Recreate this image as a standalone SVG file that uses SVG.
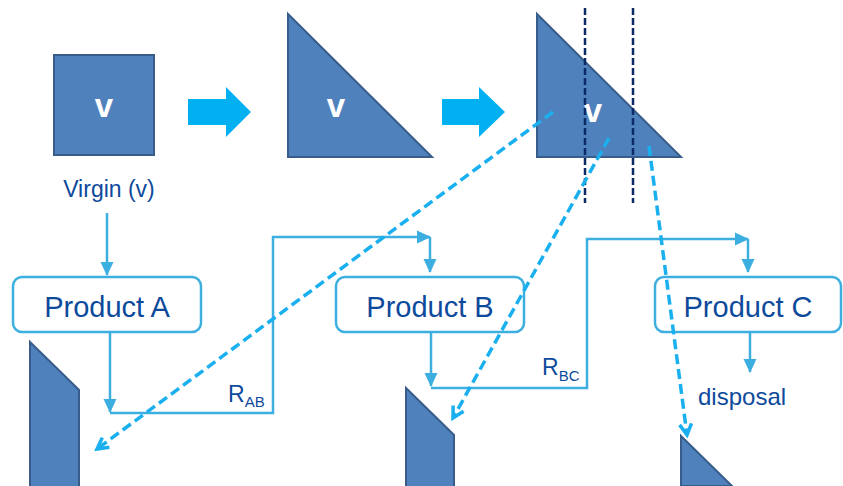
<svg xmlns="http://www.w3.org/2000/svg" width="843" height="486" viewBox="0 0 843 486">
<defs>
<style>
.shape{fill:#4f81bd;stroke:#385d8a;stroke-width:2;stroke-linejoin:miter}
.bigarrow{fill:#00b0f0}
.v{font-family:"Liberation Sans",Arial,sans-serif;font-weight:bold;font-size:33px;fill:#ffffff;text-anchor:middle}
.lbl{font-family:"Liberation Sans",Arial,sans-serif;fill:#0e4a9c}
.box{fill:#ffffff;stroke:#3daee0;stroke-width:2.5}
.conn{fill:none;stroke:#3daee0;stroke-width:2.5}
.cut{fill:none;stroke:#0b2a66;stroke-width:2.5;stroke-dasharray:7 3}
.dash{fill:none;stroke:#1ab0ef;stroke-width:3.5;stroke-dasharray:10 5}
</style>
<marker id="ah" markerWidth="14" markerHeight="14" refX="13" refY="7" orient="auto" markerUnits="userSpaceOnUse">
<path d="M0,0.5 L14,7 L0,13.5 Z" fill="#3daee0"/>
</marker>
<marker id="oh" markerWidth="16" markerHeight="16" refX="13" refY="8" orient="auto" markerUnits="userSpaceOnUse">
<path d="M2,2 L13,8 L2,14" fill="none" stroke="#1ab0ef" stroke-width="3.5"/>
</marker>
</defs>

<g id="virgin">
<rect class="shape" x="54" y="55" width="100" height="100"/>
<text class="v" x="104" y="117">v</text>
</g>
<g id="arrow1"><path class="bigarrow" d="M188,99 H226 V87 L251,112 L226,137 V125 H188 Z"/></g>
<g id="tri1">
<path class="shape" d="M288,14 L432,157 L288,157 Z"/>
<text class="v" x="336" y="117">v</text>
</g>
<g id="arrow2"><path class="bigarrow" d="M442,99 H479 V87 L505,112 L479,137 V125 H442 Z"/></g>
<g id="tri2">
<path class="shape" d="M537,14 L681,157 L537,157 Z"/>
<text class="v" x="593" y="122">v</text>
</g>
<g id="cuts">
<line class="cut" x1="585" y1="8" x2="585" y2="203"/>
<line class="cut" x1="633" y1="8" x2="633" y2="203"/>
</g>

<g id="virgin-label"><text class="lbl" x="109" y="197" font-size="23" text-anchor="middle">Virgin (v)</text></g>

<g id="productA">
<rect class="box" x="13" y="277" width="188" height="55" rx="9"/>
<text class="lbl" x="107" y="317" font-size="29" text-anchor="middle">Product A</text>
</g>
<g id="productB">
<rect class="box" x="336" y="277" width="188" height="55" rx="9"/>
<text class="lbl" x="430" y="317" font-size="29" text-anchor="middle">Product B</text>
</g>
<g id="productC">
<rect class="box" x="655" y="277" width="186" height="55" rx="9"/>
<text class="lbl" x="748" y="317" font-size="29" text-anchor="middle">Product C</text>
</g>

<g id="pieceA"><path class="shape" d="M30,342 L79,390 L79,487 L30,487 Z"/></g>
<g id="pieceB"><path class="shape" d="M406,388 L454,435 L454,487 L406,487 Z"/></g>
<g id="pieceC"><path class="shape" d="M681,436 L732,486 L681,486 Z"/></g>

<g id="labels">
<text class="lbl" x="228" y="402" font-size="23">R<tspan font-size="15" dy="5">AB</tspan></text>
<text class="lbl" x="542" y="375" font-size="23">R<tspan font-size="15" dy="6">BC</tspan></text>
<text class="lbl" x="698" y="405" font-size="24">disposal</text>
</g>

<g id="connectors">
<path class="conn" d="M107,213 V275" marker-end="url(#ah)"/>
<path class="conn" d="M110,332 V412" marker-end="url(#ah)"/>
<path class="conn" d="M110,413 H273 V237 H430" marker-end="url(#ah)"/>
<path class="conn" d="M430,237 V272" marker-end="url(#ah)"/>
<path class="conn" d="M431,332 V386" marker-end="url(#ah)"/>
<path class="conn" d="M431,388 H587 V239 H748" marker-end="url(#ah)"/>
<path class="conn" d="M748,239 V272" marker-end="url(#ah)"/>
<path class="conn" d="M750,332 V372" marker-end="url(#ah)"/>
<path class="dash" d="M553,112 L97,449" marker-end="url(#oh)"/>
<path class="dash" d="M609,138 L453,418" marker-end="url(#oh)"/>
<path class="dash" d="M649,146 L687,435" marker-end="url(#oh)"/>
</g>
</svg>
